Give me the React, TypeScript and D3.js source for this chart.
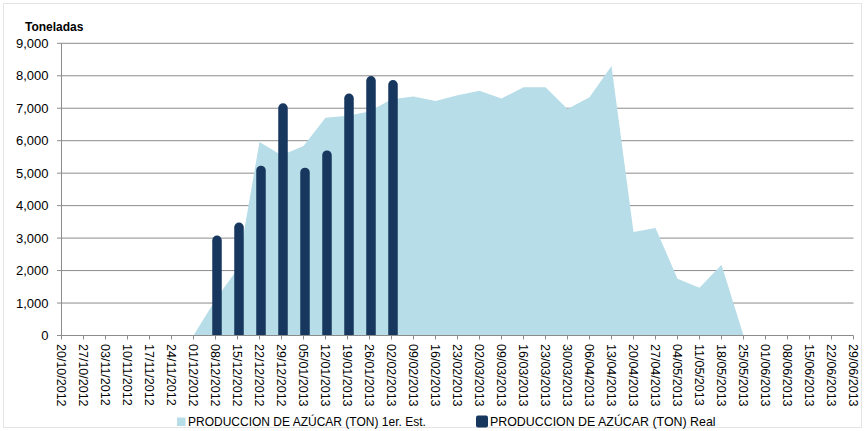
import React from 'react';
import * as d3 from 'd3';

const weeks = [
  '20/10/2012', '27/10/2012', '03/11/2012', '10/11/2012', '17/11/2012', '24/11/2012',
  '01/12/2012', '08/12/2012', '15/12/2012', '22/12/2012', '29/12/2012', '05/01/2013',
  '12/01/2013', '19/01/2013', '26/01/2013', '02/02/2013', '09/02/2013', '16/02/2013',
  '23/02/2013', '02/03/2013', '09/03/2013', '16/03/2013', '23/03/2013', '30/03/2013',
  '06/04/2013', '13/04/2013', '20/04/2013', '27/04/2013', '04/05/2013', '11/05/2013',
  '18/05/2013', '25/05/2013', '01/06/2013', '08/06/2013', '15/06/2013', '22/06/2013',
  '29/06/2013',
];

// PRODUCCION DE AZÚCAR (TON) 1er. Est.
const estimated: (number | null)[] = [
  null, null, null, null, null, null,
  0, 1100, 2050, 5960, 5550, 5840,
  6710, 6770, 6900, 7280, 7360, 7220,
  7400, 7540, 7300, 7650, 7650, 6980,
  7340, 8300, 3190, 3310, 1750, 1470,
  2180, 0, null, null, null, null,
  null,
];

// PRODUCCION DE AZÚCAR (TON) Real
const real: (number | null)[] = [
  null, null, null, null, null, null,
  null, 3080, 3480, 5230, 7150, 5170,
  5700, 7450, 7990, 7870, null, null,
  null, null, null, null, null, null,
  null, null, null, null, null, null,
  null, null, null, null, null, null,
  null,
];

const yTicks = [0, 1000, 2000, 3000, 4000, 5000, 6000, 7000, 8000, 9000];

const AREA_COLOR = '#b7dde8';
const BAR_COLOR = '#17375e';
const GRID_COLOR = '#8c8c8c';
const FONT = '"Liberation Sans", Arial, sans-serif';

export default function App() {
  const width = 865;
  const height = 431;

  const x = d3.scaleLinear().domain([0, weeks.length - 1]).range([61.5, 853.5]);
  const y = d3.scaleLinear().domain([0, 9000]).range([335.5, 43.3]);

  const areaPts = estimated
    .map((v, i) => ({ i, v }))
    .filter(d => d.v !== null) as { i: number; v: number }[];

  const area = d3.area<{ i: number; v: number }>()
    .x(d => x(d.i))
    .y0(y(0))
    .y1(d => y(d.v));

  // bars sit a touch right of the tick, like the original
  const barW = 9.5;
  const r = barW / 2;
  const barPath = (i: number, v: number) => {
    const cx = x(i) + 1.5;
    const x0 = cx - r;
    const x1 = cx + r;
    const top = y(v);
    const base = y(0);
    const p = d3.path();
    p.moveTo(x0, base);
    p.lineTo(x0, top + r);
    p.arc(cx, top + r, r, Math.PI, 0);
    p.lineTo(x1, base);
    p.closePath();
    return p.toString();
  };

  const fmt = d3.format(',');

  return (
    <svg
      width={width}
      height={height}
      style={{ position: 'absolute', left: 0, top: 0, background: '#fff' }}
      fontFamily={FONT}
    >
      <rect x={3.5} y={3.5} width={858} height={424} fill="none" stroke="#e4e4e4" />

      <text x={25} y={31} fontSize={12} fontWeight="bold" fill="#000">Toneladas</text>

      {/* gridlines + y labels */}
      {yTicks.map(t => (
        <g key={t}>
          {t > 0 && (
            <line x1={61} x2={853.5} y1={y(t)} y2={y(t)} stroke={GRID_COLOR} strokeWidth={1} />
          )}
          <line x1={57} x2={61} y1={y(t)} y2={y(t)} stroke={GRID_COLOR} />
          <text x={48.5} y={y(t)} dy="0.36em" textAnchor="end" fontSize={13} fill="#000">
            {fmt(t)}
          </text>
        </g>
      ))}

      <path d={area(areaPts) ?? ''} fill={AREA_COLOR} />

      {real.map((v, i) =>
        v === null ? null : <path key={i} d={barPath(i, v)} fill={BAR_COLOR} />
      )}

      {/* axes */}
      <line x1={61.5} x2={61.5} y1={43} y2={y(0)} stroke={GRID_COLOR} />
      <line x1={61} x2={853.5} y1={y(0)} y2={y(0)} stroke={GRID_COLOR} />
      {weeks.map((w, i) => (
        <g key={w}>
          <line x1={x(i)} x2={x(i)} y1={y(0)} y2={y(0) + 4} stroke={GRID_COLOR} />
          <text
            transform={`translate(${x(i)},${344}) rotate(90)`}
            dy="0.36em"
            fontSize={12.5}
            fill="#000"
          >
            {w}
          </text>
        </g>
      ))}

      {/* legend */}
      <rect x={177} y={417.5} width={8.5} height={8.5} fill={AREA_COLOR} />
      <text x={188} y={426} fontSize={12} fill="#000">PRODUCCION DE AZÚCAR (TON) 1er. Est.</text>
      <rect x={476} y={415.5} width={12} height={12} rx={2} fill={BAR_COLOR} />
      <text x={490} y={426} fontSize={12.4} fill="#000">PRODUCCION DE AZÚCAR (TON) Real</text>
    </svg>
  );
}
